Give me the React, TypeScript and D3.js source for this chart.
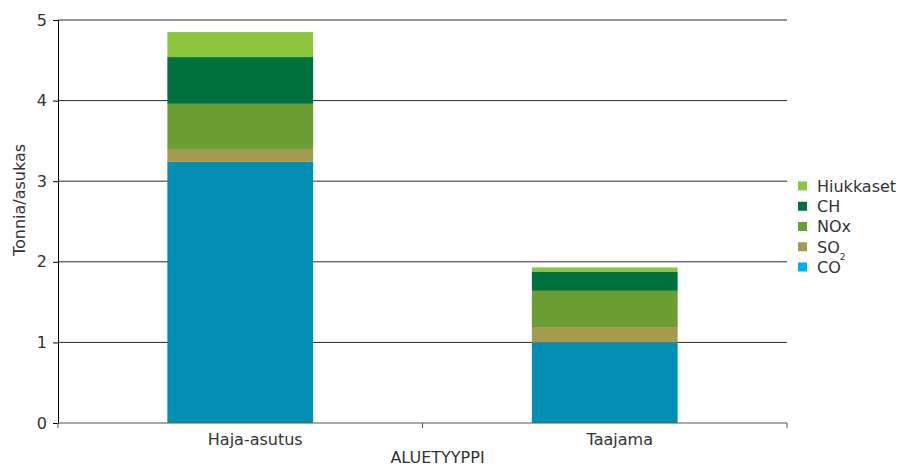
import React, { useEffect, useRef } from 'react';
import * as d3 from 'd3';

// area types (x categories)
const categories = ['Haja-asutus', 'Taajama'];
// emissions, tonnes per inhabitant, bottom -> top
const seriesNames = ['CO', 'SO2', 'NOx', 'CH', 'Hiukkaset'];
const CO = [3.24, 1.0];
const SO2 = [0.16, 0.19];
const NOx = [0.56, 0.45];
const CH = [0.58, 0.24];
const Hiukkaset = [0.31, 0.05];
const yTicks = [0, 1, 2, 3, 4, 5];

const barColors = ['#008fb3', '#a39b50', '#6b9e32', '#00703c', '#8cc63f'];
const legendColors = ['#00b0f0', '#a39b50', '#6b9e32', '#00703c', '#8cc63f'];

export default function App() {
  const ref = useRef<SVGSVGElement>(null);

  useEffect(() => {
    const svg = d3.select(ref.current);
    svg.selectAll('*').remove();

    const margin = { top: 20, right: 112, bottom: 43, left: 58 };
    const width = 899, height = 466;
    const font = 'DejaVu Sans, Verdana, sans-serif';
    const fs = 16;
    // Excel draws the category texts a bit right of the band centres
    const labelShift = 15;

    const rows = categories.map((c, i) => ({
      cat: c,
      CO: CO[i], SO2: SO2[i], NOx: NOx[i], CH: CH[i], Hiukkaset: Hiukkaset[i],
    }));
    const stacked = d3.stack<any>().keys(seriesNames)(rows);

    const x = d3.scaleBand()
      .domain(categories)
      .range([margin.left, width - margin.right])
      .paddingInner(0.6)
      .paddingOuter(0.3);
    const y = d3.scaleLinear().domain([0, 5]).range([height - margin.bottom, margin.top]);

    // gridlines
    svg.append('g')
      .selectAll('line')
      .data(yTicks.filter(d => d > 0))
      .join('line')
      .attr('x1', margin.left)
      .attr('x2', width - margin.right)
      .attr('y1', d => y(d))
      .attr('y2', d => y(d))
      .attr('stroke', '#2a2a2a')
      .attr('stroke-width', 1);

    // bars
    svg.append('g')
      .selectAll('g')
      .data(stacked)
      .join('g')
      .attr('fill', (d, i) => barColors[i])
      .selectAll('rect')
      .data(d => d)
      .join('rect')
      .attr('x', d => x(d.data.cat)!)
      .attr('width', x.bandwidth())
      .attr('y', d => y(d[1]))
      .attr('height', d => y(d[0]) - y(d[1]));

    // y axis
    const yAxis = svg.append('g')
      .attr('transform', 'translate(' + margin.left + ',0)')
      .call(d3.axisLeft(y).tickValues(yTicks).tickSize(5).tickPadding(6).tickFormat(d3.format('d')));
    yAxis.selectAll('path,line').attr('stroke', '#000');
    yAxis.selectAll('text')
      .attr('font-family', font)
      .attr('font-size', fs)
      .attr('fill', '#333');

    // x axis with ticks at band edges
    const xAxisG = svg.append('g');
    const x0 = margin.left, x1 = width - margin.right, yb = y(0);
    xAxisG.append('line')
      .attr('x1', x0).attr('x2', x1).attr('y1', yb).attr('y2', yb)
      .attr('stroke', '#555');
    const edges = [x0, (x0 + x1) / 2, x1];
    xAxisG.selectAll('.edge')
      .data(edges)
      .join('line')
      .attr('class', 'edge')
      .attr('x1', d => d).attr('x2', d => d)
      .attr('y1', yb).attr('y2', yb + 5)
      .attr('stroke', '#555');
    xAxisG.selectAll('text')
      .data(categories)
      .join('text')
      .attr('x', d => x(d)! + x.bandwidth() / 2 + labelShift)
      .attr('y', yb + 22)
      .attr('text-anchor', 'middle')
      .attr('font-family', font)
      .attr('font-size', fs)
      .attr('fill', '#333')
      .text(d => d);

    // axis titles
    svg.append('text')
      .attr('x', (x0 + x1) / 2 + labelShift)
      .attr('y', 463)
      .attr('text-anchor', 'middle')
      .attr('font-family', font)
      .attr('font-size', fs)
      .attr('fill', '#333')
      .text('ALUETYYPPI');

    svg.append('text')
      .attr('transform', 'translate(25,200) rotate(-90)')
      .attr('text-anchor', 'middle')
      .attr('font-family', font)
      .attr('font-size', fs)
      .attr('fill', '#333')
      .text('Tonnia/asukas');

    // legend, top -> bottom
    const le = svg.append('g').attr('transform', 'translate(798,186)');
    const order = [4, 3, 2, 1, 0];
    order.forEach((si, row) => {
      const g = le.append('g').attr('transform', 'translate(0,' + row * 20.25 + ')');
      g.append('rect')
        .attr('x', 0).attr('y', -4.5)
        .attr('width', 9).attr('height', 9)
        .attr('fill', legendColors[si]);
      const t = g.append('text')
        .attr('x', 19)
        .attr('y', 0)
        .attr('dy', '0.36em')
        .attr('font-family', font)
        .attr('font-size', fs)
        .attr('fill', '#333');
      if (seriesNames[si] === 'SO2') {
        t.append('tspan').text('SO');
        t.append('tspan').attr('font-size', 9).attr('dy', 7).text('2');
      } else {
        t.text(seriesNames[si]);
      }
    });
  }, []);

  return (
    <div style={{ position: 'absolute', left: 0, top: 0 }}>
      <svg ref={ref} width={899} height={466} style={{ display: 'block', background: '#fff' }} />
    </div>
  );
}
